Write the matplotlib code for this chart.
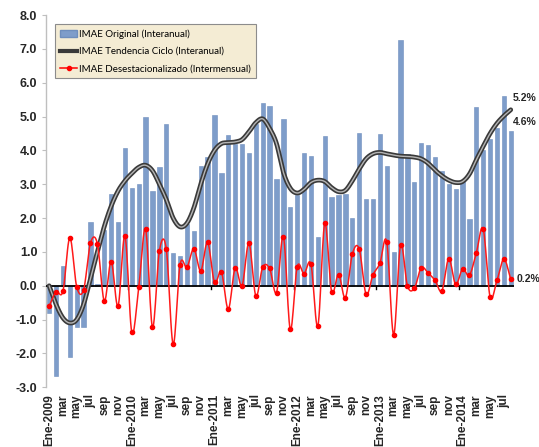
import numpy as np
import matplotlib
matplotlib.use("Agg")
import matplotlib.pyplot as plt
from matplotlib.lines import Line2D
from matplotlib.patches import Patch

# ---------------- data ----------------
years = [2009, 2010, 2011, 2012, 2013, 2014]
month_abbr = ["Ene", "feb", "mar", "abr", "may", "jun", "jul", "ago", "sep", "oct", "nov", "dic"]

imae_original = [
    -0.80, -2.68, 0.58, -2.11, -1.21, -1.21, 1.89, 0.05, 1.64, 2.72, 1.89, 4.08,   # 2009
    2.90, 3.00, 5.00, 2.80, 3.50, 4.79, 0.97, 0.88, 1.82, 1.61, 3.54, 3.81,        # 2010
    5.06, 3.33, 4.45, 4.20, 4.18, 3.92, 4.79, 5.41, 5.31, 3.14, 4.94, 2.33,        # 2011
    2.67, 3.92, 3.83, 1.43, 4.42, 2.61, 2.67, 2.72, 2.00, 4.50, 2.55, 2.55,        # 2012
    4.47, 3.54, 1.01, 7.27, 3.88, 3.06, 4.22, 4.15, 3.81, 3.38, 3.00, 2.85,        # 2013
    3.10, 1.96, 5.28, 4.00, 4.35, 4.66, 5.62, 4.57,                                # 2014
]

imae_tendencia = [
    0.00, -0.55, -0.95, -1.10, -1.00, -0.55, 0.22, 1.00, 1.75, 2.35, 2.80, 3.10,
    3.32, 3.50, 3.56, 3.40, 3.00, 2.55, 2.00, 1.74, 1.85, 2.30, 3.00, 3.60,
    4.00, 4.20, 4.23, 4.25, 4.32, 4.55, 4.82, 4.93, 4.65, 4.20, 3.35, 2.88,
    2.74, 2.85, 3.05, 3.12, 3.08, 2.90, 2.78, 2.82, 3.10, 3.45, 3.75, 3.90,
    3.94, 3.90, 3.86, 3.83, 3.82, 3.80, 3.75, 3.62, 3.42, 3.25, 3.12, 3.05,
    3.08, 3.30, 3.72, 4.12, 4.50, 4.80, 5.02, 5.20,
]

imae_desest = [
    -0.60, -0.18, -0.16, 1.42, -0.03, -0.12, 1.26, 1.24, -0.45, 0.71, -0.60, 1.47,
    -1.38, -0.05, 1.67, -1.23, 1.03, 1.09, -1.73, 0.62, 0.55, 1.09, 0.44, 1.28,
    0.10, 0.41, -0.69, 0.52, 0.00, 1.26, -0.30, 0.55, 0.51, -0.20, 1.45, -1.29,
    0.56, 0.36, 0.64, -1.19, 1.84, -0.18, 0.33, -0.35, 0.93, 1.09, -0.25, 0.32,
    0.66, 1.30, -1.45, 1.20, 0.00, -0.08, 0.53, 0.38, 0.16, -0.15, 0.80, 0.04,
    0.49, 0.31, 0.97, 1.68, -0.33, 0.16, 0.79, 0.20,
]

legend_labels = ["IMAE Original (Interanual)",
                 "IMAE Tendencia Ciclo (Interanual)",
                 "IMAE Desestacionalizado (Intermensual)"]
end_labels = ["5.2%", "4.6%", "0.2%"]
yticks = [-3.0, -2.0, -1.0, 0.0, 1.0, 2.0, 3.0, 4.0, 5.0, 6.0, 7.0, 8.0]

# tick labels: every second month
n = len(imae_original)
tick_labels = []
for i in range(n):
    y = years[i // 12]
    m = i % 12
    if m == 0:
        tick_labels.append(f"Ene-{y}")
    else:
        tick_labels.append(month_abbr[m])

# --------------- helpers ---------------
def smooth(xs, ys, k=12):
    """Catmull-Rom rendering of a smoothed line through the points."""
    xs = np.asarray(xs, float); ys = np.asarray(ys, float)
    px = np.concatenate([[2 * xs[0] - xs[1]], xs, [2 * xs[-1] - xs[-2]]])
    py = np.concatenate([[2 * ys[0] - ys[1]], ys, [2 * ys[-1] - ys[-2]]])
    outx, outy = [], []
    t = np.linspace(0, 1, k, endpoint=False)
    for i in range(1, len(px) - 2):
        p0, p1, p2, p3 = py[i - 1], py[i], py[i + 1], py[i + 2]
        q0, q1, q2, q3 = px[i - 1], px[i], px[i + 1], px[i + 2]
        t2, t3 = t * t, t * t * t
        fy = 0.5 * ((2 * p1) + (-p0 + p2) * t + (2 * p0 - 5 * p1 + 4 * p2 - p3) * t2 + (-p0 + 3 * p1 - 3 * p2 + p3) * t3)
        fx = 0.5 * ((2 * q1) + (-q0 + q2) * t + (2 * q0 - 5 * q1 + 4 * q2 - q3) * t2 + (-q0 + 3 * q1 - 3 * q2 + q3) * t3)
        outx.extend(fx); outy.extend(fy)
    outx.append(xs[-1]); outy.append(ys[-1])
    return np.array(outx), np.array(outy)

# --------------- figure ---------------
fig = plt.figure(figsize=(5.39, 4.47), dpi=100)
ax = fig.add_axes([0.0848, 0.1336, 0.954 - 0.0848, 0.9664 - 0.1336])

x = np.arange(n)
ax.bar(x, imae_original, width=0.62, color="#7E9DCA", edgecolor="#6E8EBD",
       linewidth=0.4, zorder=2)

# zero line
ax.axhline(0, color="black", lw=1.3, zorder=3)
for b in np.arange(11.5, n, 12):
    ax.plot([b, b], [0, -0.1], color="black", lw=1.0, zorder=3)

# trend line (double-line look)
tx, ty = smooth(x, imae_tendencia)
ax.plot(tx, ty, color="#3A3A3A", lw=3.4, zorder=4, solid_capstyle="round")
ax.plot(tx, ty, color="#B5B5B5", lw=1.0, zorder=5, solid_capstyle="round")

# red line
rx, ry = smooth(x, imae_desest)
ax.plot(rx, ry, color="#FF1A1A", lw=1.1, zorder=6)
ax.plot(x, imae_desest, linestyle="none", marker="o", ms=3.0, color="#FF0000", zorder=7)

ax.set_xlim(-0.5, n - 0.5)
ax.set_ylim(-3.0, 8.0)

for s in ["top", "right", "bottom"]:
    ax.spines[s].set_visible(False)
ax.spines["left"].set_color("#BFBFBF")
ax.spines["left"].set_linewidth(1.0)

ax.set_yticks(yticks)
ax.set_yticklabels([f"{v:.1f}" for v in yticks], fontsize=9, fontweight="bold",
                   family="Liberation Sans", color="#262626")
ax.tick_params(axis="y", length=3, color="#BFBFBF", pad=3)

ax.set_xticks(x[::2])
ax.set_xticklabels(tick_labels[::2], rotation=90, fontsize=8.5, fontweight="bold",
                   family="Liberation Sans", color="#262626", va="top")
ax.tick_params(axis="x", length=0, pad=5)

# end labels
ax.annotate(end_labels[0], (x[-1], imae_tendencia[-1]), xytext=(1.5, 5), textcoords="offset points",
            fontsize=7.5, fontweight="bold", family="Liberation Sans", color="#262626", va="bottom", ha="left",
            annotation_clip=False)
ax.annotate(end_labels[1], (x[-1], imae_original[-1]), xytext=(1.5, 3), textcoords="offset points",
            fontsize=7.5, fontweight="bold", family="Liberation Sans", color="#262626", va="bottom", ha="left",
            annotation_clip=False)
ax.annotate(end_labels[2], (x[-1], imae_desest[-1]), xytext=(4, 0), textcoords="offset points",
            fontsize=7.5, fontweight="bold", family="Liberation Sans", color="#262626", va="center", ha="left",
            annotation_clip=False)

# legend
handles = [Patch(facecolor="#7E9DCA", edgecolor="#6E8EBD"),
           Line2D([], [], color="#3A3A3A", lw=3.0),
           Line2D([], [], color="#FF0000", lw=1.1, marker="o", ms=3)]
leg = ax.legend(handles, legend_labels, loc="upper left", bbox_to_anchor=(0.02, 0.975),
                prop={"family": "Lato", "size": 7}, frameon=True, fancybox=False,
                borderpad=0.5, labelspacing=0.85, handlelength=1.8, handletextpad=0.15,
                borderaxespad=0.0)
leg.get_frame().set_facecolor("#F4ECD4")
leg.get_frame().set_edgecolor("#8C8C8C")
leg.get_frame().set_linewidth(0.8)
leg.get_frame().set_alpha(1.0)
leg.set_zorder(10)

fig.savefig("out.png", dpi=100)
